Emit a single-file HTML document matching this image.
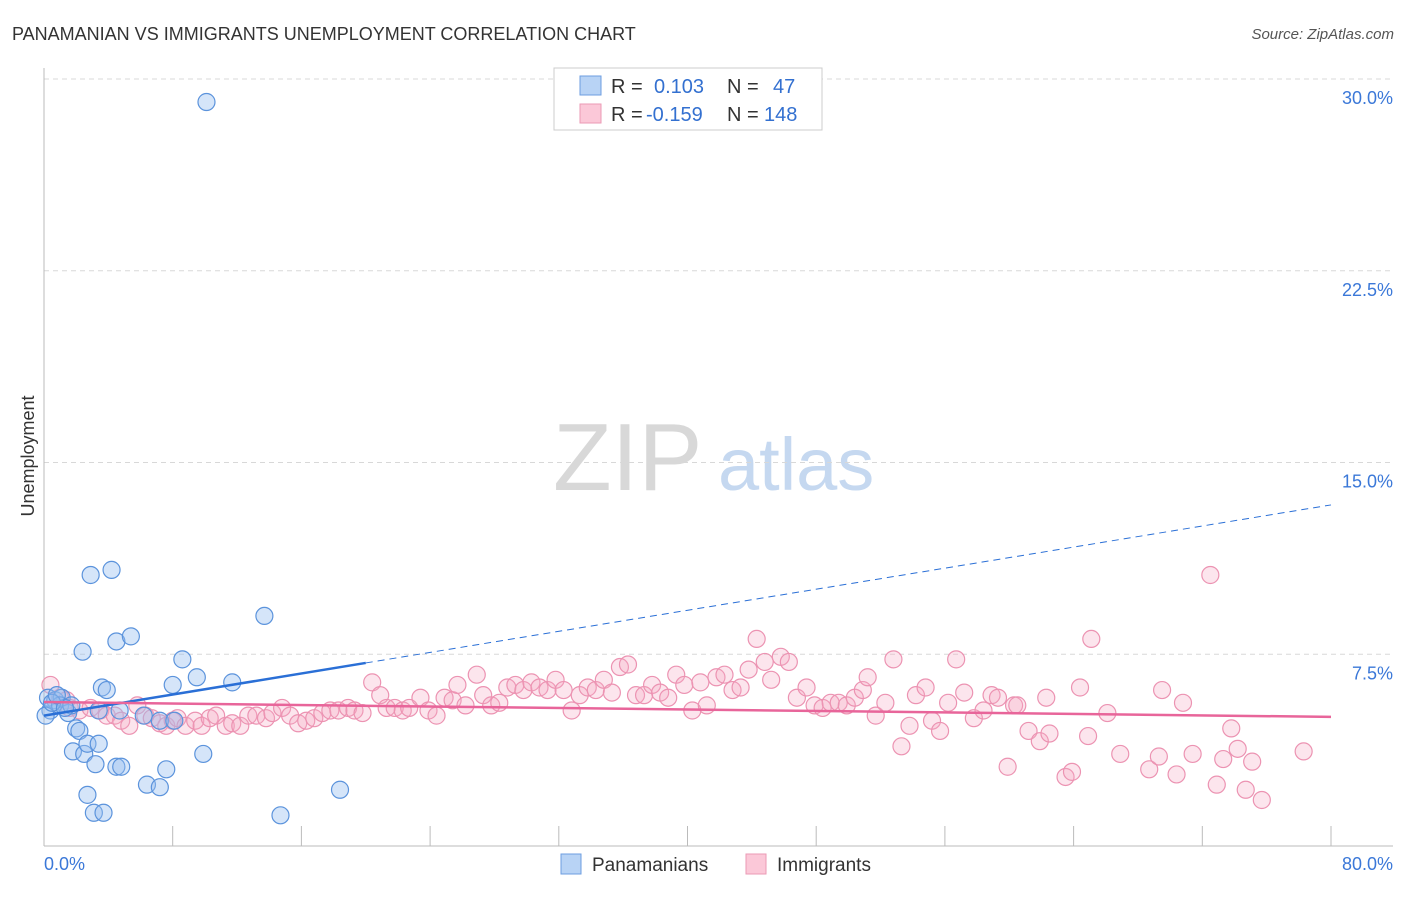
<!DOCTYPE html>
<html><head><meta charset="utf-8"><style>
body{margin:0;background:#fff;font-family:"Liberation Sans",sans-serif;}
svg text{font-family:"Liberation Sans",sans-serif;}
</style></head><body>
<svg id="chart" width="1406" height="892" viewBox="0 0 1406 892" xmlns="http://www.w3.org/2000/svg">
<text x="12" y="40" font-size="18" fill="#333">PANAMANIAN VS IMMIGRANTS UNEMPLOYMENT CORRELATION CHART</text>
<text x="1394" y="39" font-size="15" fill="#555" text-anchor="end" font-style="italic">Source: ZipAtlas.com</text>
<text x="553" y="490" font-size="96" fill="#d8d8d8" font-family="Liberation Serif, serif">ZIP</text>
<text x="718" y="490" font-size="74" fill="#c5d8f0">atlas</text>
<g id="grid"></g>
<g id="axes"></g>
<g id="pink"></g>
<g id="blue"></g>
<g id="trends"></g>
<text transform="translate(34,456) rotate(-90)" font-size="18" fill="#333" text-anchor="middle">Unemployment</text>
<g>
<rect x="554" y="68" width="268" height="62" fill="#fff" stroke="#ccc"/>
<rect x="580" y="76" width="21" height="19" fill="#b8d3f5" stroke="#6d9ee0"/>
<rect x="580" y="104" width="21" height="19" fill="#fbc8d8" stroke="#eb9ab5"/>
<text x="611" y="93" font-size="20" fill="#333">R =</text>
<text x="654" y="93" font-size="20" fill="#3370d0">0.103</text>
<text x="727" y="93" font-size="20" fill="#333">N =</text>
<text x="773" y="93" font-size="20" fill="#3370d0">47</text>
<text x="611" y="121" font-size="20" fill="#333">R =</text>
<text x="646" y="121" font-size="20" fill="#3370d0">-0.159</text>
<text x="727" y="121" font-size="20" fill="#333">N =</text>
<text x="764" y="121" font-size="20" fill="#3370d0">148</text>
</g>
<g>
<rect x="561" y="854" width="20" height="20" fill="#b8d3f5" stroke="#6d9ee0"/>
<text x="592" y="871" font-size="19" fill="#333">Panamanians</text>
<rect x="746" y="854" width="20" height="20" fill="#fbc8d8" stroke="#eb9ab5"/>
<text x="777" y="871" font-size="19" fill="#333">Immigrants</text>
</g>
</svg>
<script>
const yTicks=[7.5,15,22.5,30];
const yTickLabels=["7.5%","15.0%","22.5%","30.0%"];
const xEndLabels=["0.0%","80.0%"];
const blueX=[10.1,2.9,4.2,13.7,2.4,4.5,5.4,8.6,9.5,8.0,11.7,3.6,3.9,4.7,0.25,0.7,1.1,0.4,1.0,1.5,1.7,3.4,6.2,7.2,8.1,2.0,2.2,1.8,2.5,2.7,3.4,3.2,4.5,4.8,7.6,9.9,6.4,7.2,2.7,3.1,3.7,14.7,18.4,0.1,0.5,1.3,0.8];
const blueY=[29.1,10.6,10.8,9.0,7.6,8.0,8.2,7.3,6.6,6.3,6.4,6.2,6.1,5.3,5.8,5.7,5.8,5.3,5.5,5.2,5.5,5.3,5.1,4.9,4.9,4.6,4.5,3.7,3.6,4.0,4.0,3.2,3.1,3.1,3.0,3.6,2.4,2.3,2.0,1.3,1.3,1.2,2.2,5.1,5.6,5.4,5.9];
const pinkX=[0.4,1.0,1.4,1.6,2.2,2.9,3.5,3.9,4.4,4.8,5.3,5.8,6.3,6.7,7.2,7.6,8.0,8.3,8.8,9.4,9.8,10.3,10.7,11.3,11.7,12.2,12.7,13.2,13.8,14.2,14.8,15.3,15.8,16.3,16.8,17.3,17.8,18.3,18.9,19.3,19.8,20.4,20.9,21.3,21.8,22.3,22.7,23.4,23.9,24.4,24.9,25.4,25.7,26.2,26.9,27.3,27.8,28.3,28.8,29.3,29.8,30.3,30.8,31.3,31.8,32.3,32.8,33.3,33.8,34.3,34.8,35.3,35.8,36.3,36.8,37.3,37.8,38.3,38.8,39.3,39.8,40.3,40.8,41.2,41.8,42.3,42.8,43.3,43.8,44.3,44.8,45.2,45.8,46.3,46.8,47.4,47.9,48.4,48.9,49.4,49.9,50.4,50.9,51.2,51.7,52.3,52.8,53.3,53.8,54.2,54.8,55.2,55.7,56.2,56.7,57.2,57.8,58.4,58.9,59.3,59.9,60.3,60.5,61.2,61.9,62.3,62.5,63.5,63.9,64.4,64.9,65.1,66.1,66.9,68.7,69.3,69.5,70.4,70.8,71.4,72.5,72.9,73.3,73.8,74.2,74.7,75.1,75.7,78.3];
const pinkY=[6.3,5.8,5.7,5.4,5.3,5.4,5.3,5.1,5.1,4.9,4.7,5.5,5.1,5.0,4.8,4.7,4.9,5.0,4.7,4.9,4.7,5.0,5.1,4.7,4.8,4.7,5.1,5.1,5.0,5.2,5.4,5.1,4.8,4.9,5.0,5.2,5.3,5.3,5.4,5.3,5.2,6.4,5.9,5.4,5.4,5.3,5.4,5.8,5.3,5.1,5.8,5.7,6.3,5.5,6.7,5.9,5.5,5.6,6.2,6.3,6.1,6.4,6.2,6.1,6.5,6.1,5.3,5.9,6.2,6.1,6.5,6.0,7.0,7.1,5.9,5.9,6.3,6.0,5.8,6.7,6.3,5.3,6.4,5.5,6.6,6.7,6.1,6.2,6.9,8.1,7.2,6.5,7.4,7.2,5.8,6.2,5.5,5.4,5.6,5.6,5.5,5.8,6.1,6.6,5.1,5.6,7.3,3.9,4.7,5.9,6.2,4.9,4.5,5.6,7.3,6.0,5.0,5.3,5.9,5.8,3.1,5.5,5.5,4.5,4.1,5.8,4.4,2.7,2.9,6.2,4.3,8.1,5.2,3.6,3.0,3.5,6.1,2.8,5.6,3.6,10.6,2.4,3.4,4.6,3.8,2.2,3.3,1.8,3.7];
const blueTrend=[5.1,0.103];   // intercept, slope
const pinkTrend=[5.63,-0.00725];
const NS="http://www.w3.org/2000/svg";
const X0=44,X1=1331,YB=846,YT=79;
function sx(v){return X0+(v/80)*(X1-X0);}
function sy(v){return YB-(v/30)*(YB-YT);}
function mk(parent,tag,attrs){const e=document.createElementNS(NS,tag);for(const k in attrs)e.setAttribute(k,attrs[k]);document.getElementById(parent).appendChild(e);return e;}
yTicks.forEach((t,i)=>{
  const l=mk('grid','line',{x1:X0,x2:1393,y1:sy(t),y2:sy(t),stroke:'#d8d8d8','stroke-dasharray':'5,4'});
  
  
  const tx=mk('grid','text',{x:1393,y:sy(t)+25,'font-size':18,fill:'#3b78d8','text-anchor':'end'});
  tx.textContent=yTickLabels[i];
  
  
});
const ax=mk('axes','line',{x1:X0,x2:X0,y1:68,y2:YB,stroke:'#bbb'});


const bx=mk('axes','line',{x1:X0,x2:1393,y1:YB,y2:YB,stroke:'#bbb'});


for(let k=1;k<=10;k++){
  const t=mk('axes','line',{x1:sx(k*8),x2:sx(k*8),y1:826,y2:YB,stroke:'#bbb'});
  
  
}
[[0,'start',X0],[1,'end',1393]].forEach(([i,a,x])=>{
  const t=mk('axes','text',{x:x,y:870,'font-size':18,fill:'#3b78d8','text-anchor':a});
  t.textContent=xEndLabels[i];
  
  
});
pinkX.forEach((v,i)=>{
  const c=mk('pink','circle',{cx:sx(v),cy:sy(pinkY[i]),r:8.5,fill:'rgba(246,170,196,0.3)',stroke:'#ec93b2','stroke-width':1.2});
  
  
});
blueX.forEach((v,i)=>{
  const c=mk('blue','circle',{cx:sx(v),cy:sy(blueY[i]),r:8.5,fill:'rgba(150,190,240,0.4)',stroke:'#5b93dc','stroke-width':1.2});
  
  
});
const bs=mk('trends','line',{x1:sx(0),y1:sy(blueTrend[0]),x2:sx(20),y2:sy(blueTrend[0]+20*blueTrend[1]),stroke:'#2a6fd6','stroke-width':2.5});


const bd=mk('trends','line',{x1:sx(20),y1:sy(blueTrend[0]+20*blueTrend[1]),x2:sx(80),y2:sy(blueTrend[0]+80*blueTrend[1]),stroke:'#2a6fd6','stroke-width':1,'stroke-dasharray':'7,5'});


const pt=mk('trends','line',{x1:sx(0),y1:sy(pinkTrend[0]),x2:sx(80),y2:sy(pinkTrend[0]+80*pinkTrend[1]),stroke:'#e8659a','stroke-width':2.5});


</script>
</body></html>
